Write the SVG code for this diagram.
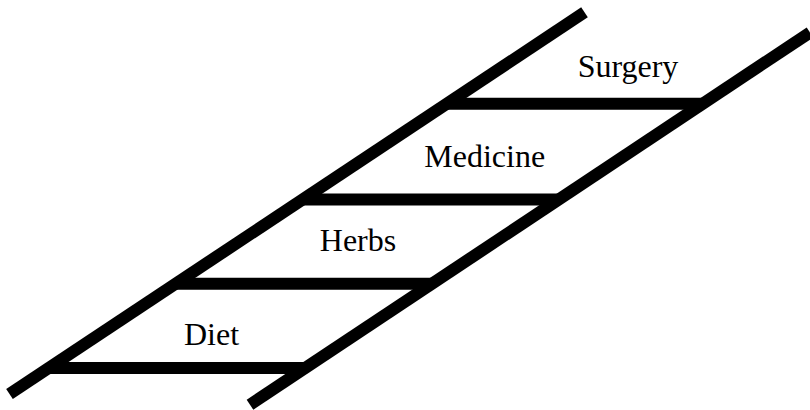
<svg xmlns="http://www.w3.org/2000/svg" width="810" height="410" viewBox="0 0 810 410">
<style>
.bar{stroke:#000;stroke-width:12;stroke-linecap:butt;fill:none}
.lbl{font-family:"Liberation Serif","Times New Roman",serif;font-size:32px;fill:#000;text-anchor:middle}
</style>
<rect width="810" height="410" fill="#fff"/>
<g id="connectors">
<line class="bar" x1="9.5" y1="394" x2="584.5" y2="12.3"/>
<line class="bar" x1="250" y1="404.7" x2="810" y2="32.5"/>
<line class="bar" x1="48.7" y1="368" x2="305.1" y2="368"/>
<line class="bar" x1="175.6" y1="283.7" x2="432.3" y2="283.7"/>
<line class="bar" x1="302.4" y1="199.5" x2="558.3" y2="199.5"/>
<line class="bar" x1="446.5" y1="103.8" x2="702.1" y2="103.8"/>
</g>
<g id="diet"><text class="lbl" x="211.5" y="345">Diet</text></g>
<g id="herbs"><text class="lbl" x="358" y="250.7">Herbs</text></g>
<g id="medicine"><text class="lbl" x="484.7" y="166.7">Medicine</text></g>
<g id="surgery"><text class="lbl" x="628" y="77.3">Surgery</text></g>
</svg>
